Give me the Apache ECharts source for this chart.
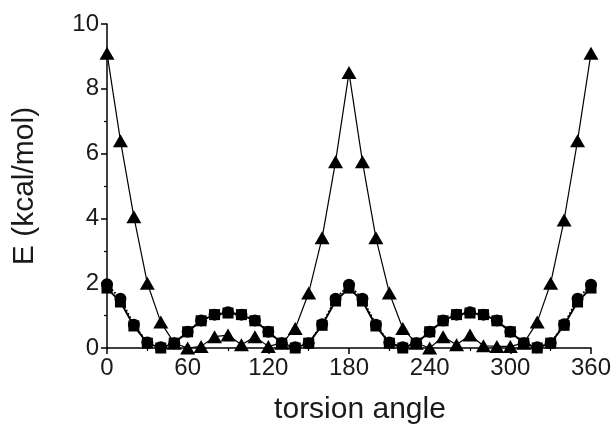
<!DOCTYPE html>
<html>
<head>
<meta charset="utf-8">
<script src="https://cdn.jsdelivr.net/npm/echarts@6/dist/echarts.min.js"></script>
<style>
  html, body { margin: 0; padding: 0; background: #fff; }
  #chart { width: 616px; height: 430px; }
</style>
</head>
<body>
<div id="chart"></div>
<script>
// torsion angle, every 10 degrees
const angles = [0, 10, 20, 30, 40, 50, 60, 70, 80, 90, 100, 110, 120, 130, 140, 150, 160, 170, 180,
  190, 200, 210, 220, 230, 240, 250, 260, 270, 280, 290, 300, 310, 320, 330, 340, 350, 360]

// E (kcal/mol)
const triangles = [9.1, 6.4, 4.05, 2.0, 0.8, 0.15, 0.0, 0.05, 0.35, 0.4, 0.1, 0.35, 0.05, 0.15, 0.6, 1.7, 3.4, 5.75, 8.5,
  5.75, 3.4, 1.7, 0.6, 0.15, 0.0, 0.35, 0.1, 0.4, 0.07, 0.05, 0.05, 0.15, 0.8, 2.0, 3.95, 6.4, 9.1]
const circles = [1.97, 1.52, 0.72, 0.17, 0.02, 0.15, 0.5, 0.85, 1.03, 1.1, 1.03, 0.85, 0.5, 0.15, 0.02, 0.15, 0.73, 1.52, 1.95,
  1.52, 0.72, 0.17, 0.02, 0.15, 0.5, 0.85, 1.03, 1.1, 1.03, 0.85, 0.5, 0.15, 0.02, 0.15, 0.73, 1.52, 1.95]
const squares = [1.85, 1.42, 0.68, 0.15, 0.0, 0.15, 0.5, 0.84, 1.03, 1.08, 1.03, 0.84, 0.5, 0.15, 0.0, 0.15, 0.7, 1.45, 1.85,
  1.45, 0.68, 0.15, 0.0, 0.15, 0.5, 0.84, 1.03, 1.08, 1.03, 0.84, 0.5, 0.15, 0.0, 0.15, 0.7, 1.42, 1.85]

const xTicks = [0, 60, 120, 180, 240, 300, 360]
const yTicks = [0, 2, 4, 6, 8, 10]

const font = 'Liberation Sans, Arial, sans-serif'
const pair = arr => arr.map((v, i) => [angles[i], v])

const dom = echarts.init(document.getElementById('chart'), null, { renderer: 'canvas' })

const axisCommon = {
  axisLine: { show: true, lineStyle: { color: '#000', width: 1.5 } },
  axisTick: { show: true, inside: false, length: 6, lineStyle: { color: '#000', width: 1.5 } },
  minorTick: { show: true, splitNumber: 2, length: 3, lineStyle: { color: '#000', width: 1.2 } },
  splitLine: { show: false },
  axisLabel: { color: '#1a1a1a', fontFamily: font, fontSize: 24, margin: 8 },
  nameTextStyle: { color: '#1a1a1a', fontFamily: font, fontSize: 30 }
}

const option = {
  animation: false,
  backgroundColor: '#fff',
  grid: { left: 107, right: 25, top: 24, bottom: 79 },
  xAxis: Object.assign({}, axisCommon, {
    type: 'value',
    min: xTicks[0],
    max: xTicks[xTicks.length - 1],
    interval: 60,
    name: 'torsion angle',
    nameLocation: 'middle',
    nameGap: 47,
    nameTextStyle: Object.assign({}, axisCommon.nameTextStyle, { padding: [0, 0, 0, 22] })
  }),
  yAxis: Object.assign({}, axisCommon, {
    type: 'value',
    min: yTicks[0],
    max: yTicks[yTicks.length - 1],
    interval: 2,
    name: 'E (kcal/mol)',
    nameLocation: 'middle',
    nameGap: 67
  }),
  series: [
    {
      name: 'squares',
      type: 'line',
      data: pair(squares),
      symbol: 'rect',
      symbolSize: 11,
      itemStyle: { color: '#000' },
      lineStyle: { color: '#000', width: 1.8 },
      z: 2
    },
    {
      name: 'circles',
      type: 'line',
      data: pair(circles),
      symbol: 'circle',
      symbolSize: 12,
      itemStyle: { color: '#000' },
      lineStyle: { color: '#000', width: 1.8, type: 'dotted' },
      z: 3
    },
    {
      name: 'triangles',
      type: 'line',
      data: pair(triangles),
      symbol: 'triangle',
      symbolSize: [15, 13],
      itemStyle: { color: '#000' },
      lineStyle: { color: '#000', width: 1.2 },
      z: 4
    }
  ]
}

dom.setOption(option)
window.addEventListener('resize', () => dom.resize())
</script>
</body>
</html>
